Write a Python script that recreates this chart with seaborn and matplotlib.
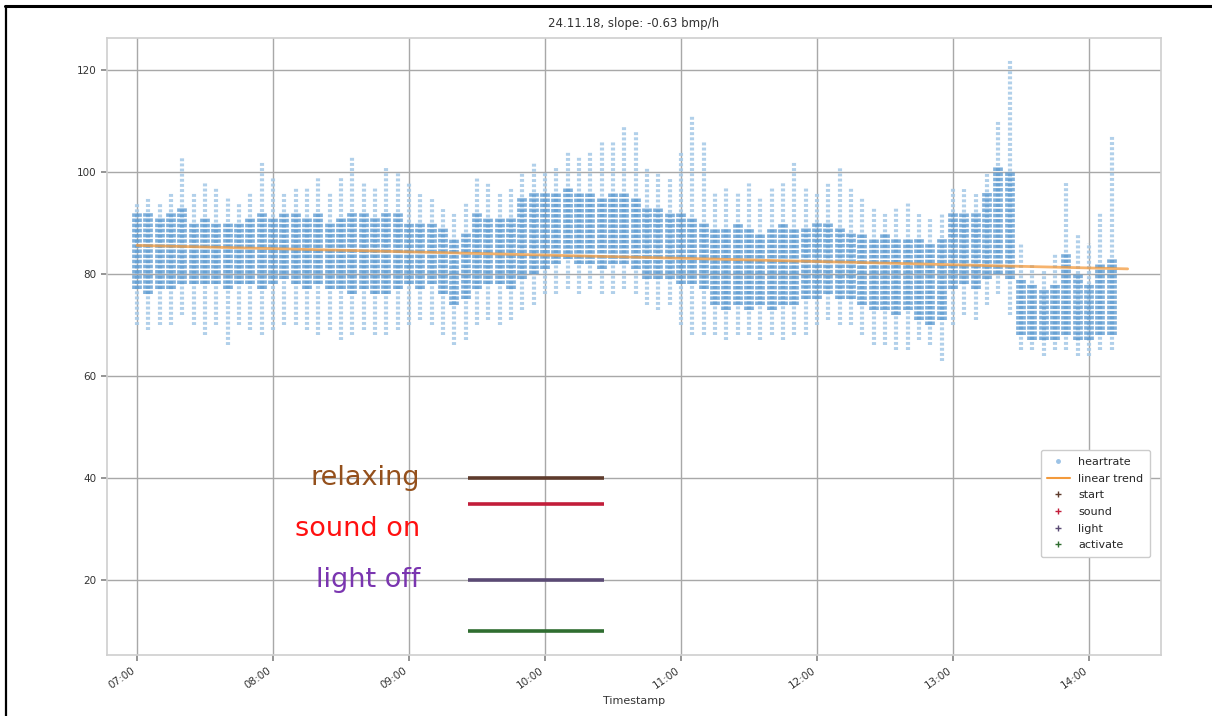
import matplotlib
matplotlib.use("Agg")
import matplotlib.pyplot as plt
import matplotlib.dates as mdates
from matplotlib.lines import Line2D
import seaborn as sns
import pandas as pd

# =====================================================
# data (5 minute bins from 07:00)
# =====================================================

day = "2018-11-24"
bin_times = pd.date_range(day + " 07:00", periods=87, freq="5min")

core_lo = [77, 76, 77, 77, 78, 78, 78, 78, 77, 78, 78, 77, 78, 79, 78, 77, 78, 77, 77, 76,
           77, 76, 76, 77, 78, 77, 78, 76, 74, 75, 77, 78, 78, 77, 79, 80, 81, 82, 83, 82,
           82, 81, 82, 82, 81, 79, 79, 79, 78, 78, 77, 74, 73, 74, 73, 74, 73, 74, 74, 75,
           75, 76, 75, 75, 74, 73, 73, 72, 73, 71, 70, 71, 77, 78, 77, 79, 80, 79, 68, 67,
           67, 67, 68, 67, 67, 68, 68]
core_hi = [92, 92, 91, 92, 93, 90, 91, 90, 90, 90, 91, 92, 91, 92, 92, 91, 92, 90, 91, 92,
           92, 91, 92, 92, 90, 90, 90, 89, 87, 88, 92, 91, 91, 91, 95, 96, 96, 96, 97, 96,
           96, 95, 96, 96, 95, 93, 93, 92, 92, 91, 90, 89, 89, 90, 89, 88, 89, 90, 89, 89,
           90, 90, 89, 88, 88, 87, 88, 87, 87, 87, 86, 87, 92, 92, 92, 96, 101, 100, 79, 78,
           77, 78, 84, 80, 78, 82, 83]
spread_lo = [70, 69, 70, 70, 72, 70, 68, 70, 66, 70, 69, 68, 69, 70, 70, 69, 68, 69, 67, 68,
             69, 68, 68, 69, 70, 71, 70, 68, 66, 67, 70, 71, 70, 71, 73, 74, 76, 76, 77, 76,
             77, 76, 76, 77, 76, 74, 73, 74, 70, 68, 68, 68, 67, 68, 68, 67, 68, 67, 68, 68,
             70, 71, 70, 70, 68, 66, 66, 65, 65, 67, 66, 63, 70, 72, 71, 74, 76, 72, 65, 65,
             64, 65, 65, 64, 64, 65, 65]
spread_hi = [94, 95, 94, 96, 103, 96, 98, 97, 95, 94, 96, 102, 99, 96, 97, 97, 99, 96, 99, 103,
             98, 97, 101, 100, 98, 96, 95, 93, 92, 94, 99, 98, 96, 97, 100, 102, 100, 101, 104, 103,
             104, 106, 106, 109, 108, 101, 100, 99, 104, 111, 106, 96, 97, 96, 98, 95, 97, 98, 102, 97,
             96, 98, 101, 97, 95, 93, 92, 93, 94, 92, 91, 92, 97, 97, 96, 100, 110, 122, 86, 82,
             81, 84, 98, 88, 86, 92, 107]

# linear trend, slope -0.63 bpm/h
trend_times = pd.to_datetime([day + " 07:00", day + " 14:17"])
trend_values = [85.6, 81.0]

# events
event_names = ["start", "sound", "light", "activate"]
event_levels = [40, 35, 20, 10]
event_begin = pd.to_datetime([day + " 09:26"] * 4)
event_end = pd.to_datetime([day + " 10:26"] * 4)
event_colors = ["#5e3b2c", "#c21d3a", "#5a4a74", "#2f6d30"]

notes = ["relaxing", "sound on", "light off"]
note_levels = [40, 30, 20]
note_colors = ["#94501c", "#ff1010", "#7a35b0"]

# =====================================================
# plot
# =====================================================

sns.set_theme(style="whitegrid", rc={
    "grid.color": "#a8a8a8",
    "grid.linewidth": 1.0,
    "axes.edgecolor": "#d0d0d0",
    "xtick.bottom": True,
    "ytick.left": True,
    "xtick.color": "#888888",
    "ytick.color": "#888888",
    "xtick.major.size": 4,
    "ytick.major.size": 4,
})
plt.rcParams["font.family"] = ["DejaVu Sans"]

fig = plt.figure(figsize=(12.12, 7.16), dpi=100)
ax = fig.add_axes([0.0883, 0.0852, 0.8697, 0.862])

# heart rate, drawn as dotted columns per bin
ax.vlines(bin_times, spread_lo, spread_hi, colors="#a9cbe8", linewidth=3,
          linestyles=[(0, (0.7, 0.53))], alpha=0.9, zorder=2)
ax.vlines(bin_times, core_lo, core_hi, colors="#4a8fcc", linewidth=7,
          linestyles=[(0, (0.36, 0.17))], alpha=0.7, zorder=3)

sns.lineplot(x=trend_times, y=trend_values, ax=ax, color="#f39a3c",
             linewidth=2.0, alpha=0.75, zorder=4)

for lvl, t0, t1, col in zip(event_levels, event_begin, event_end, event_colors):
    ax.hlines(lvl, t0, t1, colors=col, linewidth=2.6, zorder=5)

for txt, lvl, col in zip(notes, note_levels, note_colors):
    ax.text(pd.Timestamp(day + " 09:05"), lvl, txt, color=col, fontsize=19.5,
            ha="right", va="center", zorder=6)

ax.set_xlim(pd.Timestamp(day + " 06:46:45"), pd.Timestamp(day + " 14:31:45"))
ax.set_ylim(5.3, 126.3)
ax.set_yticks([20, 40, 60, 80, 100, 120])
ax.xaxis.set_major_locator(mdates.HourLocator())
ax.xaxis.set_major_formatter(mdates.DateFormatter("%H:%M"))
ax.tick_params(axis="both", labelsize=7.5, labelcolor="#333333")
for lab in ax.get_xticklabels():
    lab.set_rotation(35)
    lab.set_ha("right")

ax.set_title("24.11.18, slope: -0.63 bmp/h", fontsize=8.5, color="#333333", pad=8)
ax.set_xlabel("Timestamp", fontsize=8, color="#333333")
ax.set_ylabel("")

handles = [
    Line2D([], [], marker=".", linestyle="none", color="#9cc3e6", markersize=5),
    Line2D([], [], color="#f39a3c", linewidth=1.5),
] + [Line2D([], [], marker="+", linestyle="none", color=c, markersize=4) for c in event_colors]
labels = ["heartrate", "linear trend"] + event_names
ax.legend(handles, labels, loc="lower right", bbox_to_anchor=(0.995, 0.15),
          fontsize=8, labelspacing=0.6, borderpad=0.6, frameon=True,
          edgecolor="#cccccc", framealpha=1)

# frame of the screenshot
fig.add_artist(Line2D([0.004, 1.0], [0.991, 0.991], transform=fig.transFigure,
                      color="black", linewidth=2.2))
fig.add_artist(Line2D([0.005, 0.005], [0.0, 0.991], transform=fig.transFigure,
                      color="black", linewidth=1.6))

fig.savefig("out.png", dpi=100)
